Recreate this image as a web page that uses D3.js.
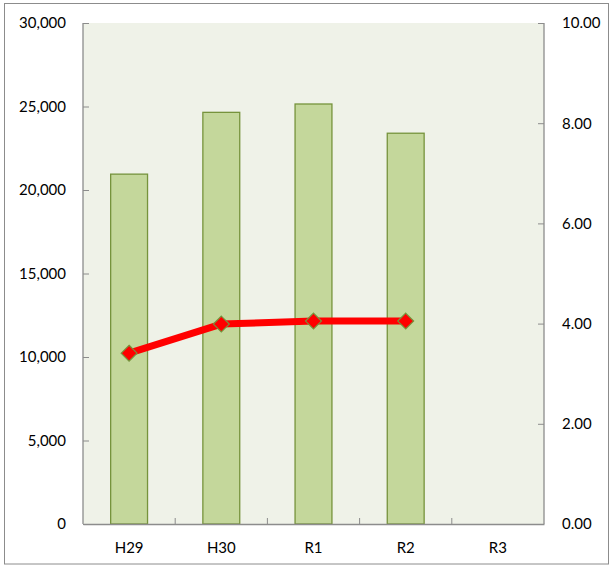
<!DOCTYPE html>
<html>
<head>
<meta charset="utf-8">
<script src="https://cdn.jsdelivr.net/npm/d3@7"></script>
<style>
  body { margin: 0; background: #fff; }
  svg text { font-family: Lato, "Open Sans", sans-serif; font-size: 15px; fill: #000; }
</style>
</head>
<body>
<div id="chart"></div>
<script>
const categories = ["H29", "H30", "R1", "R2", "R3"];
const barValues = [20950, 24650, 25150, 23400, null];
const lineValues = [3.41, 3.99, 4.05, 4.05, null];
const leftTicks = [0, 5000, 10000, 15000, 20000, 25000, 30000];
const rightTicks = [0, 2, 4, 6, 8, 10];

const W = 609, H = 567;
const margin = {top: 23, right: 65, bottom: 43, left: 83};
const width = 544 - margin.left;
const height = 524 - margin.top;

const svg = d3.select("#chart").append("svg")
    .attr("width", W)
    .attr("height", H);

// outer frame
svg.append("rect")
    .attr("x", 4.5).attr("y", 3.5)
    .attr("width", 604).attr("height", 560.5)
    .attr("fill", "#fff")
    .attr("stroke", "#8c8c8c");

const g = svg.append("g")
    .attr("transform", "translate(" + margin.left + "," + margin.top + ")");

// plot background
g.append("rect")
    .attr("width", width).attr("height", height)
    .attr("fill", "#eff2e8");

const x = d3.scaleBand().domain(categories).range([0, width]);
const yL = d3.scaleLinear().domain([0, 30000]).range([height, 0]);
const yR = d3.scaleLinear().domain([0, 10]).range([height, 0]);

// bars
const barW = x.bandwidth() * 0.4;
g.selectAll("rect.bar")
    .data(categories.map((c, i) => ({c: c, v: barValues[i]})).filter(d => d.v != null))
    .enter().append("rect")
    .attr("class", "bar")
    .attr("x", d => x(d.c) + (x.bandwidth() - barW) / 2)
    .attr("y", d => yL(d.v))
    .attr("width", barW)
    .attr("height", d => height - yL(d.v))
    .attr("fill", "#c4d79b")
    .attr("stroke", "#76933c")
    .attr("stroke-width", 1.3);

// axes
const axisColor = "#8c8c8c";
const leftAxis = g.append("g")
    .call(d3.axisLeft(yL).tickValues(leftTicks).tickSize(-6).tickPadding(17)
        .tickFormat(d3.format(",")));
const rightAxis = g.append("g")
    .attr("transform", "translate(" + width + ",0)")
    .call(d3.axisRight(yR).tickValues(rightTicks).tickSize(-6).tickPadding(18)
        .tickFormat(d3.format(".2f")));
const bottomAxis = g.append("g")
    .attr("transform", "translate(0," + height + ")")
    .call(d3.axisBottom(x).tickSize(0).tickPadding(18));

// category boundary ticks on bottom axis
g.selectAll("line.btick")
    .data(d3.range(1, categories.length))
    .enter().append("line")
    .attr("class", "btick")
    .attr("x1", i => i * x.step()).attr("x2", i => i * x.step())
    .attr("y1", height).attr("y2", height - 6)
    .attr("stroke", axisColor);

[leftAxis, rightAxis, bottomAxis].forEach(a => {
    a.selectAll("path.domain").attr("stroke", axisColor).attr("stroke-width", 1.3);
    a.selectAll(".tick line").attr("stroke", axisColor);
    a.selectAll("text").attr("fill", "#000")
        .style("font-family", "Lato, 'Open Sans', sans-serif").style("font-size", "15px");
});
leftAxis.select("path.domain").attr("d", "M0," + height + "V0");
rightAxis.select("path.domain").attr("d", "M0," + height + "V0");

// line series
const pts = categories.map((c, i) => ({c: c, v: lineValues[i]})).filter(d => d.v != null);
const line = d3.line()
    .x(d => x(d.c) + x.bandwidth() / 2)
    .y(d => yR(d.v));

g.append("path")
    .datum(pts)
    .attr("d", line)
    .attr("fill", "none")
    .attr("stroke", "#ff0000")
    .attr("stroke-width", 7)
    .attr("stroke-linejoin", "round");

g.selectAll("path.marker")
    .data(pts)
    .enter().append("path")
    .attr("class", "marker")
    .attr("d", d3.symbol().type(d3.symbolDiamond2).size(160))
    .attr("transform", d => "translate(" + (x(d.c) + x.bandwidth() / 2) + "," + yR(d.v) + ")")
    .attr("fill", "#ff0000")
    .attr("stroke", "#76933c")
    .attr("stroke-width", 1.2);
</script>
</body>
</html>
